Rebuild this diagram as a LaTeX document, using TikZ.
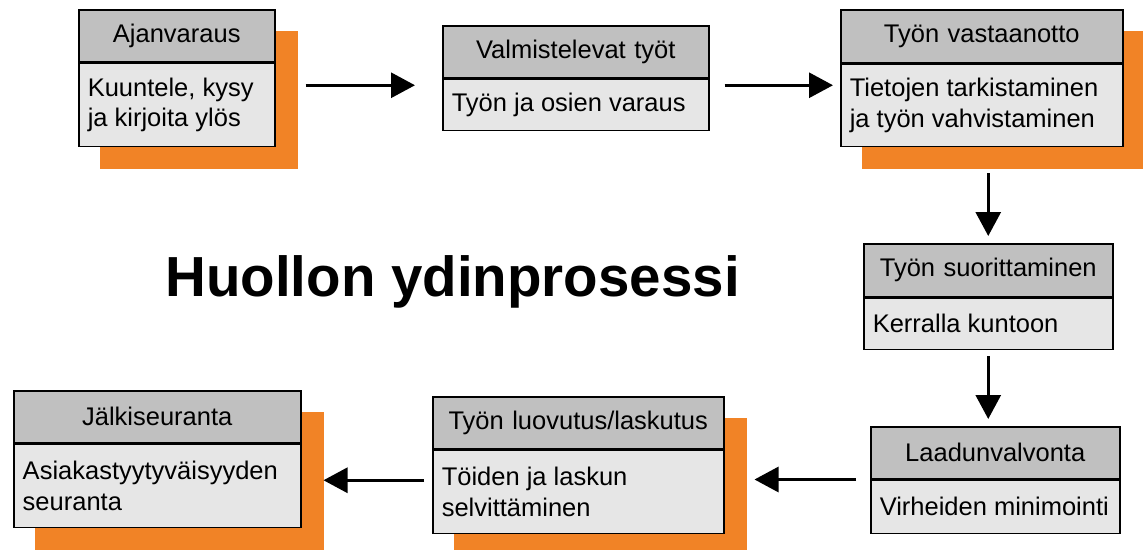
\documentclass[tikz,border=0pt]{standalone}
\usepackage{fontspec}
\setmainfont{Liberation Sans}
\usetikzlibrary{arrows.meta,backgrounds}
\definecolor{harmaa}{RGB}{192,192,192}
\definecolor{vaalea}{RGB}{230,230,230}
\definecolor{oranssi}{RGB}{241,131,38}
\begin{document}
\begin{tikzpicture}
[x=1pt,y=-1pt,
  varjo/.style={fill=oranssi},%
  otsake/.style={draw,line width=1.5pt,fill=harmaa,inner xsep=9pt,inner ysep=0pt,
    minimum height=52,align=center,anchor=north west,font=\fontsize{25.5}{30.5}\selectfont},%
  sisalto/.style={draw,line width=1.5pt,fill=vaalea,inner xsep=9pt,inner ysep=0pt,
    align=flush left,anchor=north,font=\fontsize{25.5}{30.5}\selectfont},%
  nuoli/.style={-{Triangle[length=24pt,width=25pt]},line width=3pt}]
\useasboundingbox (0,0) rectangle (1143,549);
% laatikot
\node (ajan) at (78,9) [otsake,text width=178] {Ajanvaraus};
\node (ajantxt) at (ajan.south) [sisalto,text width=178,minimum height=83] {Kuuntele, kysy\\ja kirjoita ylös};
\node (valm) at (442,25) [otsake,text width=248] {Valmistelevat työt};
\node (valmtxt) at (valm.south) [sisalto,text width=248,minimum height=51] {Työn ja osien varaus};
\node (vast) at (840,9) [otsake,text width=264,minimum height=53] {Työn vastaanotto};
\node (vasttxt) at (vast.south) [sisalto,text width=264,minimum height=82] {Tietojen tarkistaminen\\ja työn vahvistaminen};
\node (suor) at (863,243) [otsake,text width=231,minimum height=53] {Työn suorittaminen};
\node (suortxt) at (suor.south) [sisalto,text width=231,minimum height=51] {Kerralla kuntoon};
\node (laad) at (870,426) [otsake,text width=231] {Laadunvalvonta};
\node (laadtxt) at (laad.south) [sisalto,text width=231,minimum height=53] {Virheiden minimointi};
\node (luov) at (432,396) [otsake,text width=273] {Työn luovutus/laskutus};
\node (luovtxt) at (luov.south) [sisalto,text width=273,minimum height=83] {Töiden ja laskun\\selvittäminen};
\node (jalk) at (13,390) [otsake,text width=269] {Jälkiseuranta};
\node (jalktxt) at (jalk.south) [sisalto,text width=269,minimum height=83] {Asiakastyytyväisyyden\\seuranta};
% oranssit varjot
\begin{scope}[on background layer]
\foreach \laatikko in {ajan,vast,luov,jalk}
  \fill[varjo] ([shift={(22pt,-22pt)}]\laatikko.north west) rectangle ([shift={(22pt,-22pt)}]\laatikko txt.south east);
\end{scope}
% otsikko
\node (otsikko) at (452.5,296) [anchor=base,font=\fontsize{56.5}{60}\bfseries\selectfont] {Huollon ydinprosessi};
% nuolet
\draw[nuoli,shorten <=30pt,shorten >=27pt] ([yshift=19.5pt]ajantxt.east) -- ([yshift=19.5pt]valmtxt.west);
\draw[nuoli,shorten <=15pt,shorten >=7pt] ([yshift=19.5pt]valmtxt.east) -- ([yshift=19.5pt]valmtxt.east -| vasttxt.west);
\draw[nuoli,shorten <=26pt,shorten >=7pt] (vasttxt.south -| suor.north) -- (suor.north);
\draw[nuoli,shorten <=6pt,shorten >=7pt] (suortxt.south) -- (suortxt.south |- laad.north);
\draw[nuoli,shorten <=14pt,shorten >=30pt] (laad.south west) -- (laad.south west -| luovtxt.east);
\draw[nuoli,shorten <=8pt,shorten >=22pt] ([yshift=11.5pt]luovtxt.west) -- ([yshift=11.5pt]luovtxt.west -| jalktxt.east);
\end{tikzpicture}
\end{document}
